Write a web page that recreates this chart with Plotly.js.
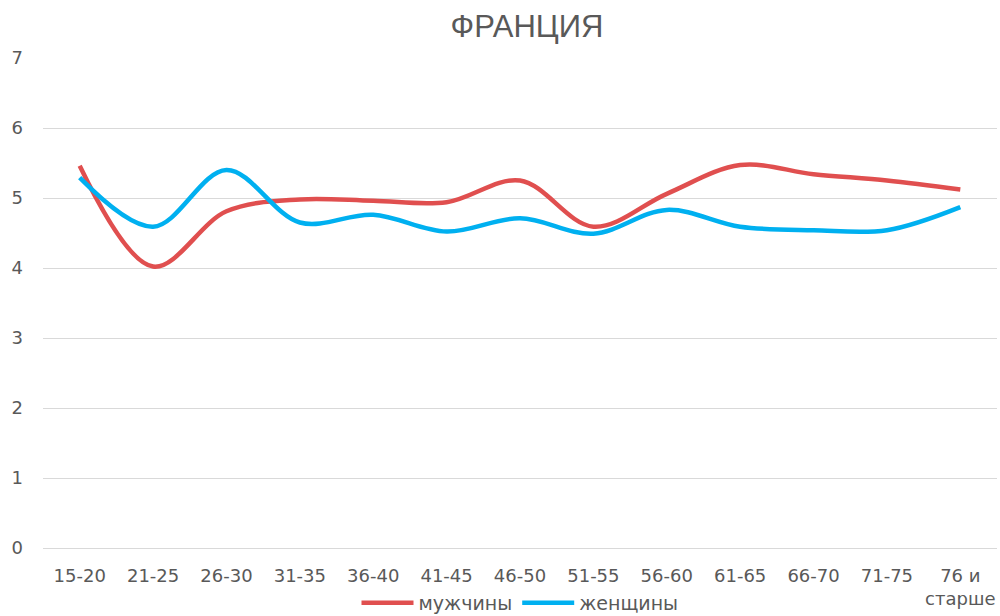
<!DOCTYPE html>
<html><head><meta charset="utf-8">
<script src="https://cdn.plot.ly/plotly-3.0.1.min.js"></script>
<style>html,body{margin:0;padding:0;background:#fff;}#chart{width:1000px;height:616px;}</style>
</head><body><div id="chart"></div>
<script>
const categories = ["15-20","21-25","26-30","31-35","36-40","41-45","46-50","51-55","56-60","61-65","66-70","71-75","76 и<br>старше"];
const men   = [5.46,4.02,4.81,4.98,4.96,4.94,5.25,4.59,5.06,5.47,5.34,5.25,5.12];
const women = [5.29,4.59,5.40,4.65,4.76,4.52,4.71,4.49,4.83,4.59,4.54,4.54,4.87];
const chartTitle = "ФРАНЦИЯ";
const seriesNames = ["мужчины","женщины"];

const font = "DejaVu Sans, Verdana, sans-serif";
const titleFont = "Liberation Sans, Arial, sans-serif";
const traces = [
  {x: categories, y: men, name: seriesNames[0], type: "scatter", mode: "lines",
   line: {color: "#E04F4F", width: 4.5, shape: "spline", smoothing: 1}},
  {x: categories, y: women, name: seriesNames[1], type: "scatter", mode: "lines",
   line: {color: "#00B0F0", width: 4.5, shape: "spline", smoothing: 1}}
];
const layout = {
  width: 1000, height: 616,
  margin: {l: 43, r: 3, t: 58, b: 68, autoexpand: false},
  paper_bgcolor: "#fff", plot_bgcolor: "#fff",
  font: {family: font, size: 18, color: "#595959"},
  title: {text: chartTitle, x: 0.527, xanchor: "center", y: 0.958, yanchor: "middle",
          font: {family: titleFont, size: 31, color: "#595959"}},
  xaxis: {type: "category", range: [-0.5, 12.5], showgrid: false, zeroline: false,
          showline: false, ticks: "", tickfont: {size: 18, color: "#595959"},
          ticklabelstandoff: 15, automargin: false, fixedrange: true},
  yaxis: {range: [0, 7], dtick: 1, showgrid: true, gridcolor: "#D9D9D9", gridwidth: 1,
          zeroline: true, zerolinecolor: "#D9D9D9", zerolinewidth: 1, showline: false,
          ticks: "", tickfont: {size: 18, color: "#595959"}, ticklabelstandoff: 19,
          automargin: false, fixedrange: true},
  showlegend: true,
  legend: {orientation: "h", x: 0.5, xanchor: "center", y: -0.112, yanchor: "middle",
           font: {size: 19, color: "#595959"}, itemwidth: 52, bgcolor: "rgba(0,0,0,0)"}
};
Plotly.newPlot("chart", traces, layout, {displayModeBar: false, staticPlot: true});
</script></body></html>
